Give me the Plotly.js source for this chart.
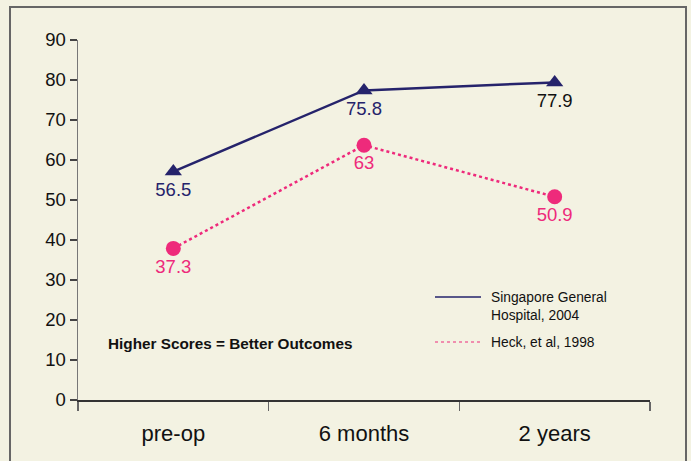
<!DOCTYPE html>
<html><head><meta charset="utf-8">
<script src="https://cdn.plot.ly/plotly-3.0.1.min.js"></script>
<style>html,body{margin:0;padding:0;background:#f3f2e2;}</style>
</head><body>
<div id="chart" style="width:691px;height:461px;"></div>
<script>
const categories = ["pre-op", "6 months", "2 years"];
// plotted positions
const sghValues = [57.1, 77.4, 79.4];
const heckValues = [37.9, 63.7, 50.8];
// printed data labels
const sghLabels = ["56.5", "75.8", "77.9"];
const heckLabels = ["37.3", "63", "50.9"];
const sghName = "Singapore General<br>Hospital, 2004";
const heckName = "Heck, et al, 1998";
const note = "Higher Scores = Better Outcomes";

const navy = "#25236b";
const pink = "#ee2a7b";

const px = (p) => (p - 78) / 572;
const py = (p) => (400 - p) / 360;

const traces = [
  {x: categories, y: sghValues, mode: "lines+markers+text", text: sghLabels,
   textposition: "bottom center", textfont: {family: "Liberation Sans, Arial", size: 18.5, color: [navy, navy, "#111111"]},
   line: {color: navy, width: 2.5}, marker: {symbol: "triangle-up", size: 15, color: navy},
   showlegend: false, cliponaxis: false},
  {x: categories, y: heckValues, mode: "lines+markers+text", text: heckLabels,
   textposition: "bottom center", textfont: {family: "Liberation Sans, Arial", size: 18.5, color: pink},
   line: {color: pink, width: 2.5, dash: "dot"}, marker: {symbol: "circle", size: 15, color: pink},
   showlegend: false, cliponaxis: false}
];

const layout = {
  width: 691, height: 461,
  margin: {l: 78, r: 41, t: 40, b: 61},
  paper_bgcolor: "#f3f2e2", plot_bgcolor: "#f3f2e2",
  font: {family: "Liberation Sans, Arial", size: 18, color: "#111"},
  xaxis: {type: "category", range: [-0.5, 2.5], showline: true, linecolor: "#333", linewidth: 1.5,
          ticks: "outside", tickson: "boundaries", ticklen: 9, tickcolor: "#666", tickwidth: 1.5,
          ticklabelstandoff: 13,
          showgrid: false, zeroline: false, tickfont: {size: 22}},
  yaxis: {range: [0, 90], dtick: 10, showline: true, linecolor: "#777", linewidth: 1.5,
          ticks: "outside", ticklen: 7, tickcolor: "#444", tickwidth: 1.5,
          showgrid: false, zeroline: false, tickfont: {size: 18.5}},
  shapes: [
    {type: "rect", xref: "paper", yref: "paper", x0: px(10), x1: px(686), y0: py(470), y1: py(7),
     line: {color: "#666", width: 2}, fillcolor: "rgba(0,0,0,0)", layer: "below"},
    {type: "line", xref: "paper", yref: "paper", x0: px(435), x1: px(481), y0: py(297), y1: py(297),
     line: {color: navy, width: 1.5}},
    {type: "line", xref: "paper", yref: "paper", x0: px(435), x1: px(481), y0: py(342), y1: py(342),
     line: {color: pink, width: 1.2, dash: "dot"}}
  ],
  annotations: [
    {xref: "paper", yref: "paper", x: px(489), y: py(306), xanchor: "left", yanchor: "middle", align: "left",
     text: sghName, showarrow: false, font: {size: 13.8, color: "#111"}},
    {xref: "paper", yref: "paper", x: px(489), y: py(342), xanchor: "left", yanchor: "middle", align: "left",
     text: heckName, showarrow: false, font: {size: 13.8, color: "#111"}},
    {xref: "paper", yref: "paper", x: px(106), y: py(343), xanchor: "left", yanchor: "middle",
     text: "<b>" + note + "</b>", showarrow: false, font: {size: 15.3, color: "#111"}}
  ]
};

Plotly.newPlot("chart", traces, layout, {displayModeBar: false, staticPlot: true});
</script>
</body></html>
